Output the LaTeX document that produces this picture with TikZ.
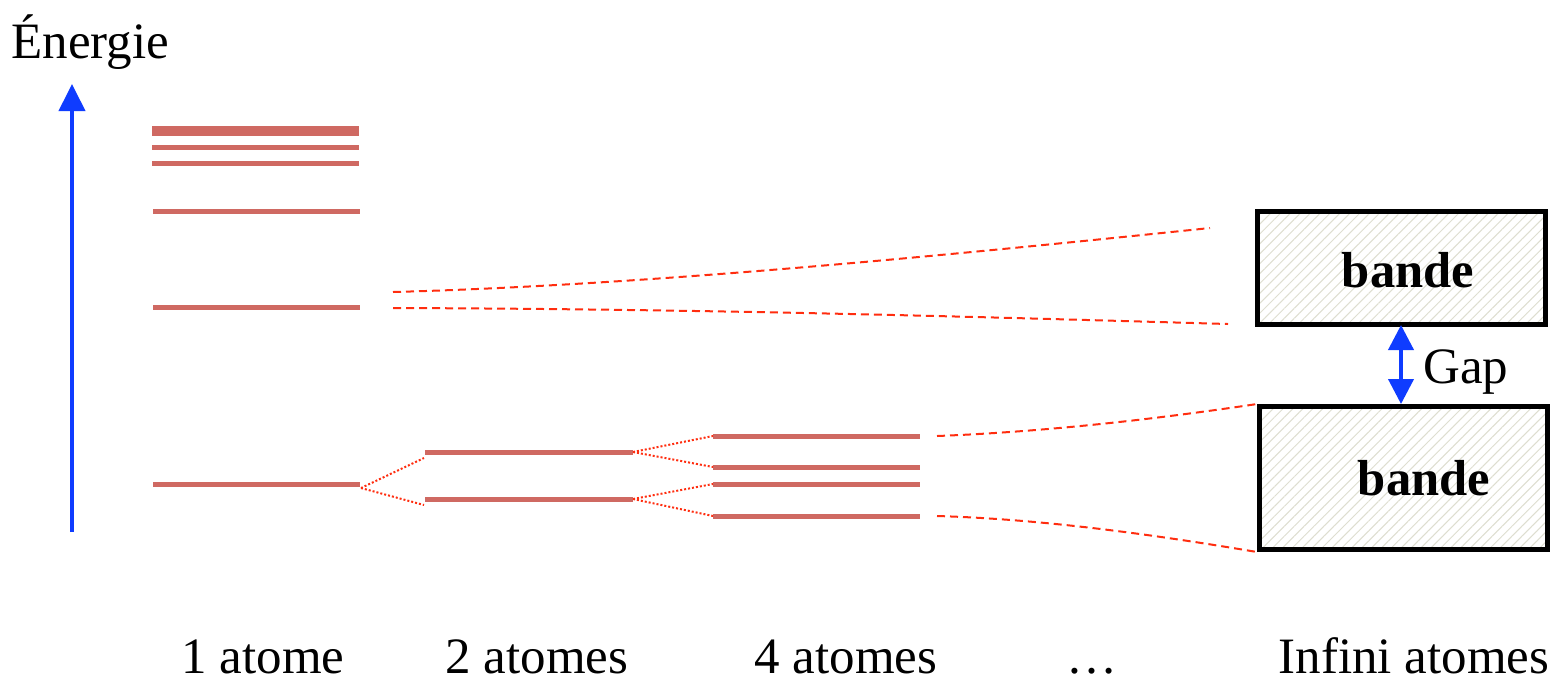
\documentclass[tikz,border=0pt]{standalone}
\usepackage{fontspec}
\setmainfont{Liberation Serif}
\usetikzlibrary{arrows.meta,patterns.meta}

\definecolor{levelred}{RGB}{207,105,98}
\definecolor{linkred}{RGB}{255,45,15}
\definecolor{axisblue}{RGB}{15,60,255}
\definecolor{hatch}{RGB}{222,222,208}

\tikzset{
  lvl/.style={levelred, line width=2.5pt},
  lvlthick/.style={levelred, line width=5pt},
  splitlink/.style={linkred, line width=1pt, dash pattern=on 1pt off 1pt},
  bandlink/.style={linkred, line width=1pt, dash pattern=on 4pt off 2.5pt},
  bandbox/.style={draw=black, line width=2.5pt, inner sep=0pt,
    minimum width=144pt, anchor=north west,
    preaction={fill=white},
    pattern={Lines[angle=45,distance=3.5pt,line width=0.5pt]}, pattern color=hatch},
  txt/.style={inner sep=0pt, font=\fontsize{25.5}{30}\selectfont},
  bold/.style={txt, font=\fontsize{25.3}{30}\selectfont\bfseries},
  bluearrow/.style={axisblue, line width=2pt, -{Triangle[width=13pt,length=13.5pt]}},
  gaparrow/.style={axisblue, line width=2pt,
    {Triangle[width=12.5pt,length=12.5pt]}-{Triangle[width=12.5pt,length=12.5pt]}}
}

\begin{document}
\begin{tikzpicture}[x=0.5pt, y=-0.5pt]
\useasboundingbox (0,0) rectangle (1567,682);

% energy axis
\coordinate (axbot) at (72,532);
\coordinate (axtop) at (72,84);
\draw[bluearrow] (axbot) -- (axtop);
\node[txt, anchor=base west] (energie) at (11,58) {Énergie};

% one atom: levels
\draw[lvlthick] (152,131) -- (359,131);
\draw[lvl] (152,147) -- (359,147);
\draw[lvl] (152,163) -- (359,163);
\draw[lvl] (153,211) -- (360,211);
\draw[lvl] (153,307) -- (360,307);
\draw[lvl] (153,484) coordinate (a1l) -- (360,484) coordinate (a1r);

% two atoms
\draw[lvl] (425,452) coordinate (b1l) -- (633,452) coordinate (b1r);
\draw[lvl] (425,499) coordinate (b2l) -- (633,499) coordinate (b2r);

% four atoms
\draw[lvl] (713,436) coordinate (c1l) -- (920,436) coordinate (c1r);
\draw[lvl] (713,467) coordinate (c2l) -- (920,467) coordinate (c2r);
\draw[lvl] (713,484) coordinate (c3l) -- (920,484) coordinate (c3r);
\draw[lvl] (713,516) coordinate (c4l) -- (920,516) coordinate (c4r);

% splitting of the levels
\coordinate (s1) at (361,488);
\coordinate (s1u) at (424,458);
\coordinate (s1d) at (424,505);
\draw[splitlink] (s1) -- (s1u);
\draw[splitlink] (s1) -- (s1d);
\draw[splitlink] (b1r) -- (c1l);
\draw[splitlink] (b1r) -- (c2l);
\draw[splitlink] (b2r) -- (c3l);
\draw[splitlink] (b2r) -- (c4l);

% bands of the solid
\node[bandbox, minimum height=56.5pt] (band1) at (1257,211) {};
\node[bandbox, minimum height=71.5pt] (band2) at (1257,404) {};
\node[bold, anchor=base] (band1txt) at (1408,287) {bande};
\node[bold, anchor=base] (band2txt) at (1424,495) {bande};

% gap
\draw[gaparrow] (1401,404) -- (1401,325);
\node[txt, anchor=base west] (gap) at (1423,383) {Gap};

% links towards the bands
\coordinate (u1) at (393,292);
\coordinate (u2) at (393,308);
\coordinate (u1e) at (1210,228);
\coordinate (u2e) at (1228,324);
\draw[bandlink] (u1) .. controls (650,285) and (950,255) .. (u1e);
\draw[bandlink] (u2) .. controls (700,309) and (950,316) .. (u2e);
\coordinate (l1) at (937,436);
\coordinate (l2) at (937,516);
\draw[bandlink] (l1) .. controls (1040,432) and (1150,420) .. (band2.north west);
\draw[bandlink] (l2) .. controls (1040,519) and (1150,534) .. (band2.south west);

% number of atoms
\node[txt, anchor=base] (n1) at (263,673) {1 atome};
\node[txt, anchor=base] (n2) at (537,673) {2 atomes};
\node[txt, anchor=base] (n4) at (846,673) {4 atomes};
\node[txt, anchor=base] (ndots) at (1092,673) {…};
\node[txt, anchor=base] (ninf) at (1414,673) {Infini atomes};
\end{tikzpicture}
\end{document}
